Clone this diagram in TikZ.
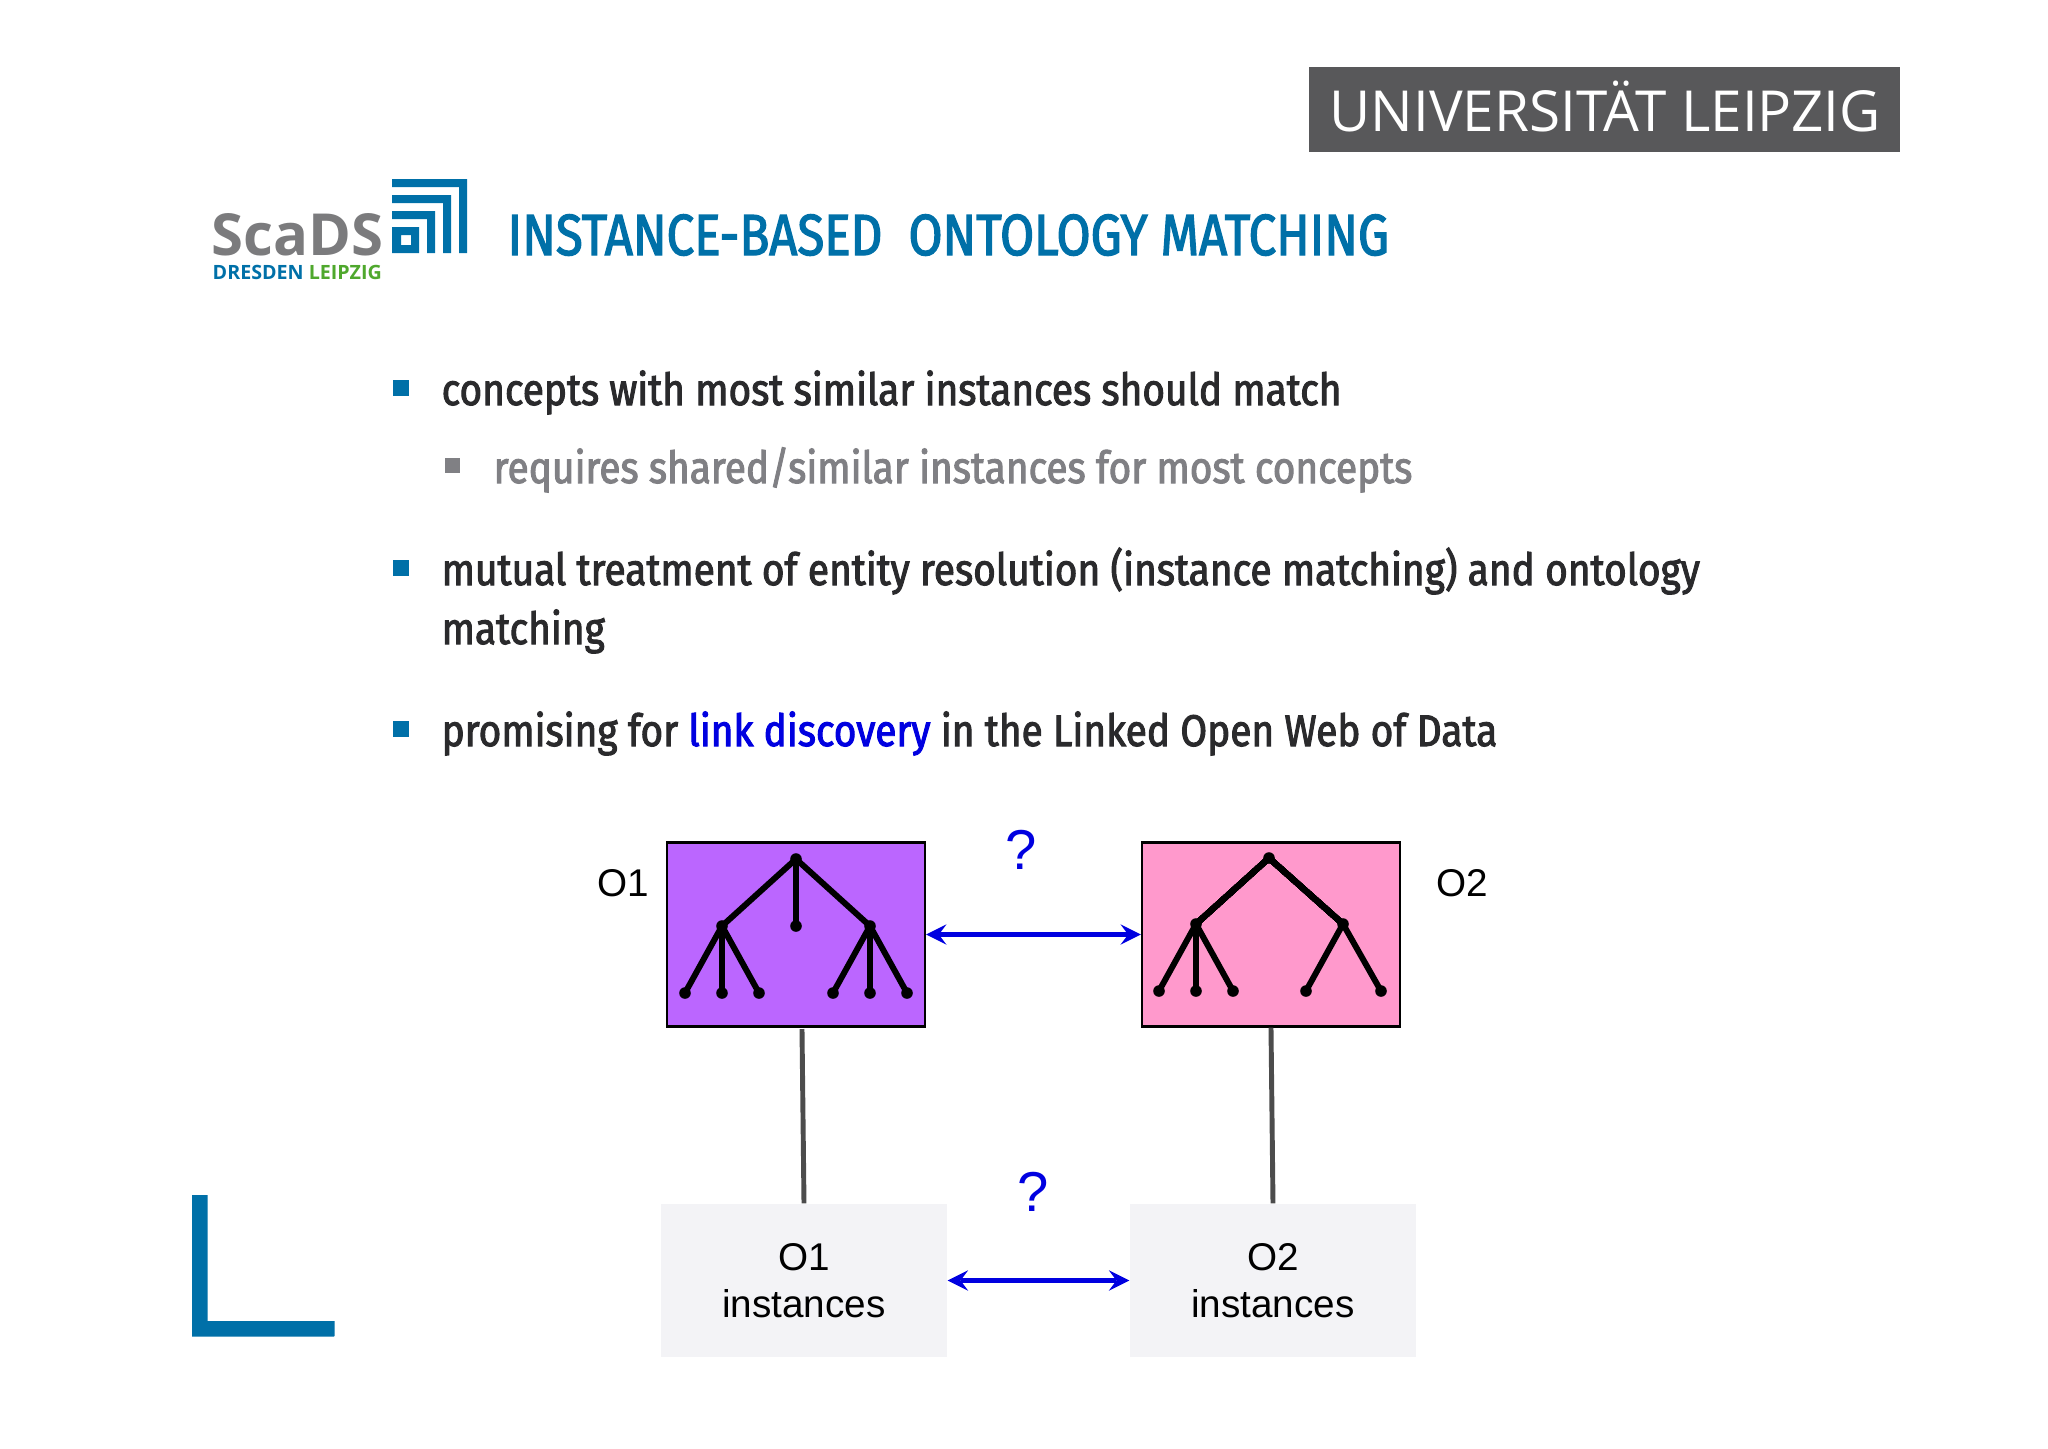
\documentclass[tikz,border=0pt]{standalone}
\usepackage{fontspec}
\setmainfont{Liberation Sans}
\newfontfamily\slidefont[FakeStretch=0.877,FakeBold=2.2]{Fira Sans}
\newfontfamily\titlefont[FakeStretch=0.85,FakeBold=2.2]{Fira Sans}
\newfontfamily\logofont{Open Sans}
\definecolor{scadsblue}{HTML}{0070A8}
\definecolor{scadsgreen}{HTML}{4FA82D}
\definecolor{logogray}{HTML}{58585A}
\definecolor{scadsgray}{HTML}{7B7B7D}
\definecolor{textdark}{HTML}{2A2A2C}
\definecolor{textgray}{HTML}{808084}
\definecolor{linkblue}{HTML}{0000E0}
\definecolor{onepurple}{HTML}{BB66FF}
\definecolor{twopink}{HTML}{FF99CC}
\definecolor{instgray}{HTML}{F3F3F6}
\tikzset{
  bullet/.style={text=textdark,anchor=base west,inner sep=0pt,font=\slidefont\fontsize{12.6}{15}\selectfont},
  subbullet/.style={bullet,text=textgray},
  ontobox/.style={draw=black,line width=0.6pt,minimum width=2.58cm,minimum height=1.84cm,inner sep=0pt},
  instbox/.style={fill=instgray,align=center,minimum width=2.86cm,minimum height=1.53cm,inner sep=0pt,font=\fontsize{11}{13.5}\selectfont},
  onelabel/.style={font=\fontsize{11}{13}\selectfont},
  query/.style={text=linkblue,font=\fontsize{16}{18}\selectfont},
  tie/.style={draw=black!70,line width=1.4pt},
  matcharrow/.style={<->,>=stealth,draw=linkblue,line width=1.5pt},
  treeline/.style={line width=1.7pt,line cap=round},
}
\newcommand{\treedot}[1]{\fill #1 circle (0.058);}
\begin{document}
\begin{tikzpicture}[x=1cm,y=-1cm]
  \useasboundingbox (0,0) rectangle (20.48,14.48);
  % header
  \fill[logogray] (13.09,0.67) rectangle (19.00,1.52);
  \node (uni) at (16.05,1.06) [text=white,font=\logofont\fontsize{16.1}{18}\selectfont] {UNIVERSITÄT LEIPZIG};
  \node (scads) at (2.11,2.55) [anchor=base west,inner sep=0pt,text=scadsgray,font=\logofont\fontsize{16.5}{18}\selectfont\bfseries] {ScaDS};
  \node (city) at (2.12,2.79) [anchor=base west,inner sep=0pt,font=\logofont\fontsize{5.6}{7}\selectfont\bfseries] {\textcolor{scadsblue}{DRESDEN} \textcolor{scadsgreen}{LEIPZIG}};
  \fill[scadsblue] (3.92,1.79) rectangle (4.67,1.87) (4.59,1.79) rectangle (4.67,2.53);
  \fill[scadsblue] (3.92,1.95) rectangle (4.51,2.03) (4.43,1.95) rectangle (4.51,2.53);
  \fill[scadsblue] (3.92,2.11) rectangle (4.35,2.19) (4.27,2.11) rectangle (4.35,2.53);
  \fill[scadsblue,even odd rule] (3.92,2.27) rectangle (4.19,2.53) (4.01,2.35) rectangle (4.11,2.45);
  \node (title) at (5.07,2.55) [anchor=base west,inner sep=0pt,text=scadsblue,font=\titlefont\fontsize{16.5}{18}\selectfont] {INSTANCE-BASED\ \ ONTOLOGY MATCHING};
  % bullets
  \fill[scadsblue] (3.93,3.80) rectangle (4.09,3.96);
  \node (b1) at (4.41,4.05) [bullet] {concepts with most similar instances should match};
  \fill[textgray] (4.45,4.58) rectangle (4.60,4.73);
  \node (b2) at (4.93,4.83) [subbullet] {requires shared/similar instances for most concepts};
  \fill[scadsblue] (3.93,5.60) rectangle (4.09,5.76);
  \node (b3) at (4.41,5.85) [bullet] {mutual treatment of entity resolution (instance matching) and ontology};
  \node (b3b) at (4.41,6.44) [bullet] {matching};
  \fill[scadsblue] (3.93,7.21) rectangle (4.09,7.37);
  \node (b4) at (4.41,7.46) [bullet] {promising for \textcolor{linkblue}{link discovery} in the Linked Open Web of Data};
  % ontologies
  \node (o1) at (7.96,9.345) [ontobox,fill=onepurple] {};
  \node (o2) at (12.71,9.345) [ontobox,fill=twopink] {};
  \node (o1l) at (6.235,8.83) [onelabel] {O1};
  \node (o2l) at (14.62,8.83) [onelabel] {O2};
  \node (i1) at (8.04,12.805) [instbox] {O1\\instances};
  \node (i2) at (12.73,12.805) [instbox] {O2\\instances};
  \coordinate (t1) at (8.02,10.29);
  \draw[tie] (t1) -- (i1.north);
  \draw[tie] (o2.south) -- (i2.north);
  \draw[matcharrow] (o1) -- (o2);
  \draw[matcharrow] (i1) -- (i2);
  \node (q1) at (10.21,8.50) [query] {?};
  \node (q2) at (10.33,11.92) [query] {?};
  % left tree
  \draw[treeline] (7.96,8.59) -- (7.22,9.26) (7.96,8.59) -- (7.96,9.26) (7.96,8.59) -- (8.70,9.26);
  \draw[treeline] (7.22,9.26) -- (6.85,9.93) (7.22,9.26) -- (7.22,9.93) (7.22,9.26) -- (7.59,9.93);
  \draw[treeline] (8.70,9.26) -- (8.33,9.93) (8.70,9.26) -- (8.70,9.93) (8.70,9.26) -- (9.07,9.93);
  \foreach \p in {(7.96,8.59),(7.22,9.26),(7.96,9.26),(8.70,9.26),(6.85,9.93),(7.22,9.93),(7.59,9.93),(8.33,9.93),(8.70,9.93),(9.07,9.93)}
    \treedot{\p}
  % right tree
  \draw[treeline] (12.69,8.58) -- (11.96,9.24) (12.69,8.58) -- (13.43,9.24);
  \draw[treeline] (11.96,9.24) -- (11.59,9.91) (11.96,9.24) -- (11.96,9.91) (11.96,9.24) -- (12.33,9.91);
  \draw[treeline] (13.43,9.24) -- (13.06,9.91) (13.43,9.24) -- (13.81,9.91);
  \foreach \p in {(12.69,8.58),(11.96,9.24),(13.43,9.24),(11.59,9.91),(11.96,9.91),(12.33,9.91),(13.06,9.91),(13.81,9.91)}
    \treedot{\p}
  % corner mark
  \fill[scadsblue] (1.92,11.95) rectangle (2.07,13.36) (1.92,13.21) rectangle (3.34,13.36);
\end{tikzpicture}
\end{document}
